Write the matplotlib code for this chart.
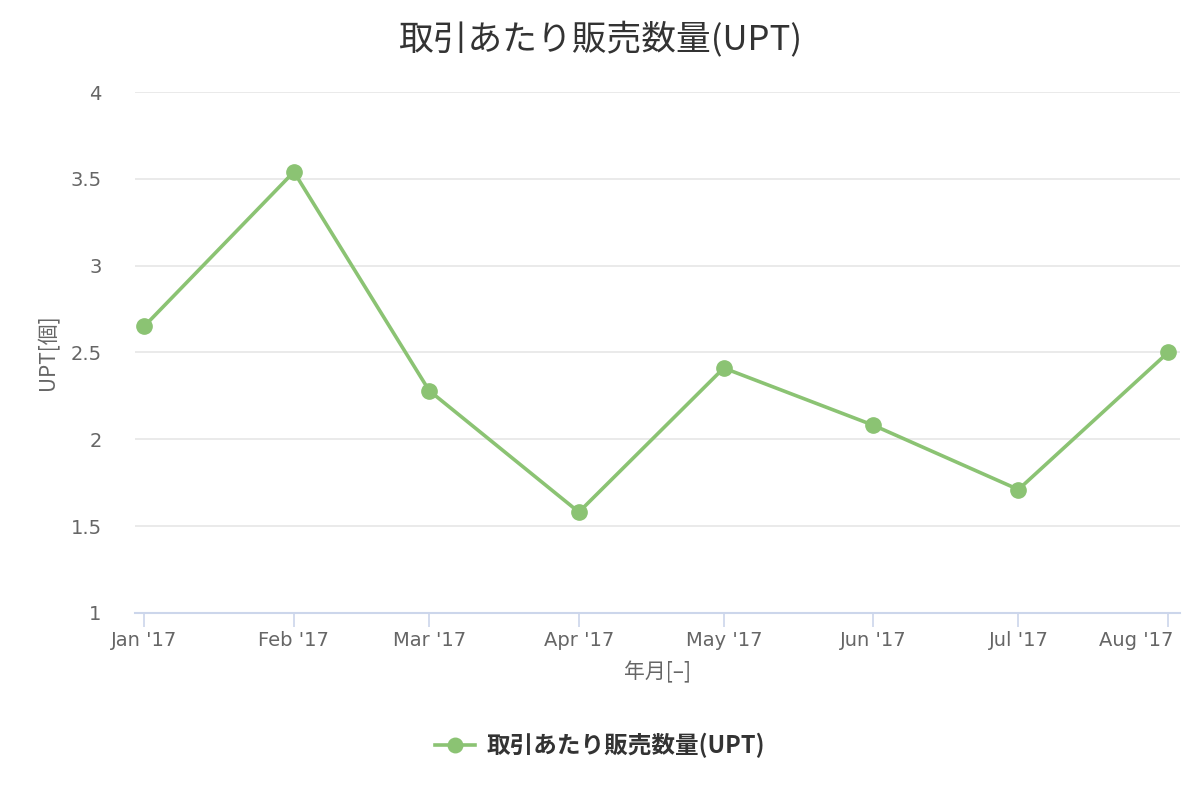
import numpy as np
import pandas as pd
import matplotlib
matplotlib.use('Agg')
import matplotlib.pyplot as plt
import matplotlib.dates as mdates
import matplotlib.transforms as mtransforms

plt.rcParams['font.family'] = ['DejaVu Sans', 'Noto Sans CJK JP']

# データ
months = pd.to_datetime(['2017-01-01', '2017-02-01', '2017-03-01', '2017-04-01',
                          '2017-05-01', '2017-06-01', '2017-07-01', '2017-08-01'])
upt = [2.65, 3.54, 2.28, 1.58, 2.41, 2.08, 1.71, 2.50]
series_name = '取引あたり販売数量(UPT)'
yticks = [1, 1.5, 2, 2.5, 3, 3.5, 4]

green = '#8bc373'
cjk = ['Noto Sans CJK JP', 'DejaVu Sans']

fig = plt.figure(figsize=(12, 8), dpi=100)
ax = fig.add_axes([0.1125, 0.234, 0.871, 0.651])

ax.plot(months, upt, color=green, linewidth=2.6, marker='o', markersize=11,
        label=series_name, zorder=3)

ax.set_ylim(1, 4)
ax.set_yticks(yticks)
ax.set_yticklabels([f'{v:g}' for v in yticks])
ax.set_xlim(months[0] - pd.Timedelta(days=1.9), months[-1] + pd.Timedelta(days=2.5))
ax.set_xticks(months)
ax.xaxis.set_major_formatter(mdates.DateFormatter("%b '%y"))

ax.grid(axis='y', color='#e6e6e6', linewidth=1.2)
ax.set_axisbelow(True)
for s in ['top', 'right', 'left']:
    ax.spines[s].set_visible(False)
ax.spines['bottom'].set_color('#ccd6eb')
ax.spines['bottom'].set_linewidth(1.5)
ax.tick_params(axis='x', colors='#ccd6eb', length=10, width=1.2, labelcolor='#666666',
               labelsize=14, pad=3)
ax.tick_params(axis='y', length=0, labelcolor='#666666', labelsize=14, pad=24)

# 最後のラベルは右端で切れないように右寄せ
last = ax.xaxis.get_major_ticks()[-1].label1
last.set_horizontalalignment('right')
last.set_transform(last.get_transform() +
                   mtransforms.ScaledTranslation(4 / 72, 0, fig.dpi_scale_trans))

ax.set_ylabel('UPT[個]', fontsize=15, color='#666666', labelpad=8, family=cjk)
ax.set_xlabel('年月[–]', fontsize=15, color='#666666', labelpad=8, family=cjk)

fig.suptitle(series_name, fontsize=25, color='#333333', y=0.972, family=cjk)

leg = fig.legend(loc='center', bbox_to_anchor=(0.5, 0.068), frameon=False,
                 prop={'size': 17, 'weight': 'bold', 'family': cjk},
                 handlelength=1.7, handletextpad=0.5, markerscale=0.95)
for t in leg.get_texts():
    t.set_color('#333333')

fig.savefig('out.png', dpi=100)
